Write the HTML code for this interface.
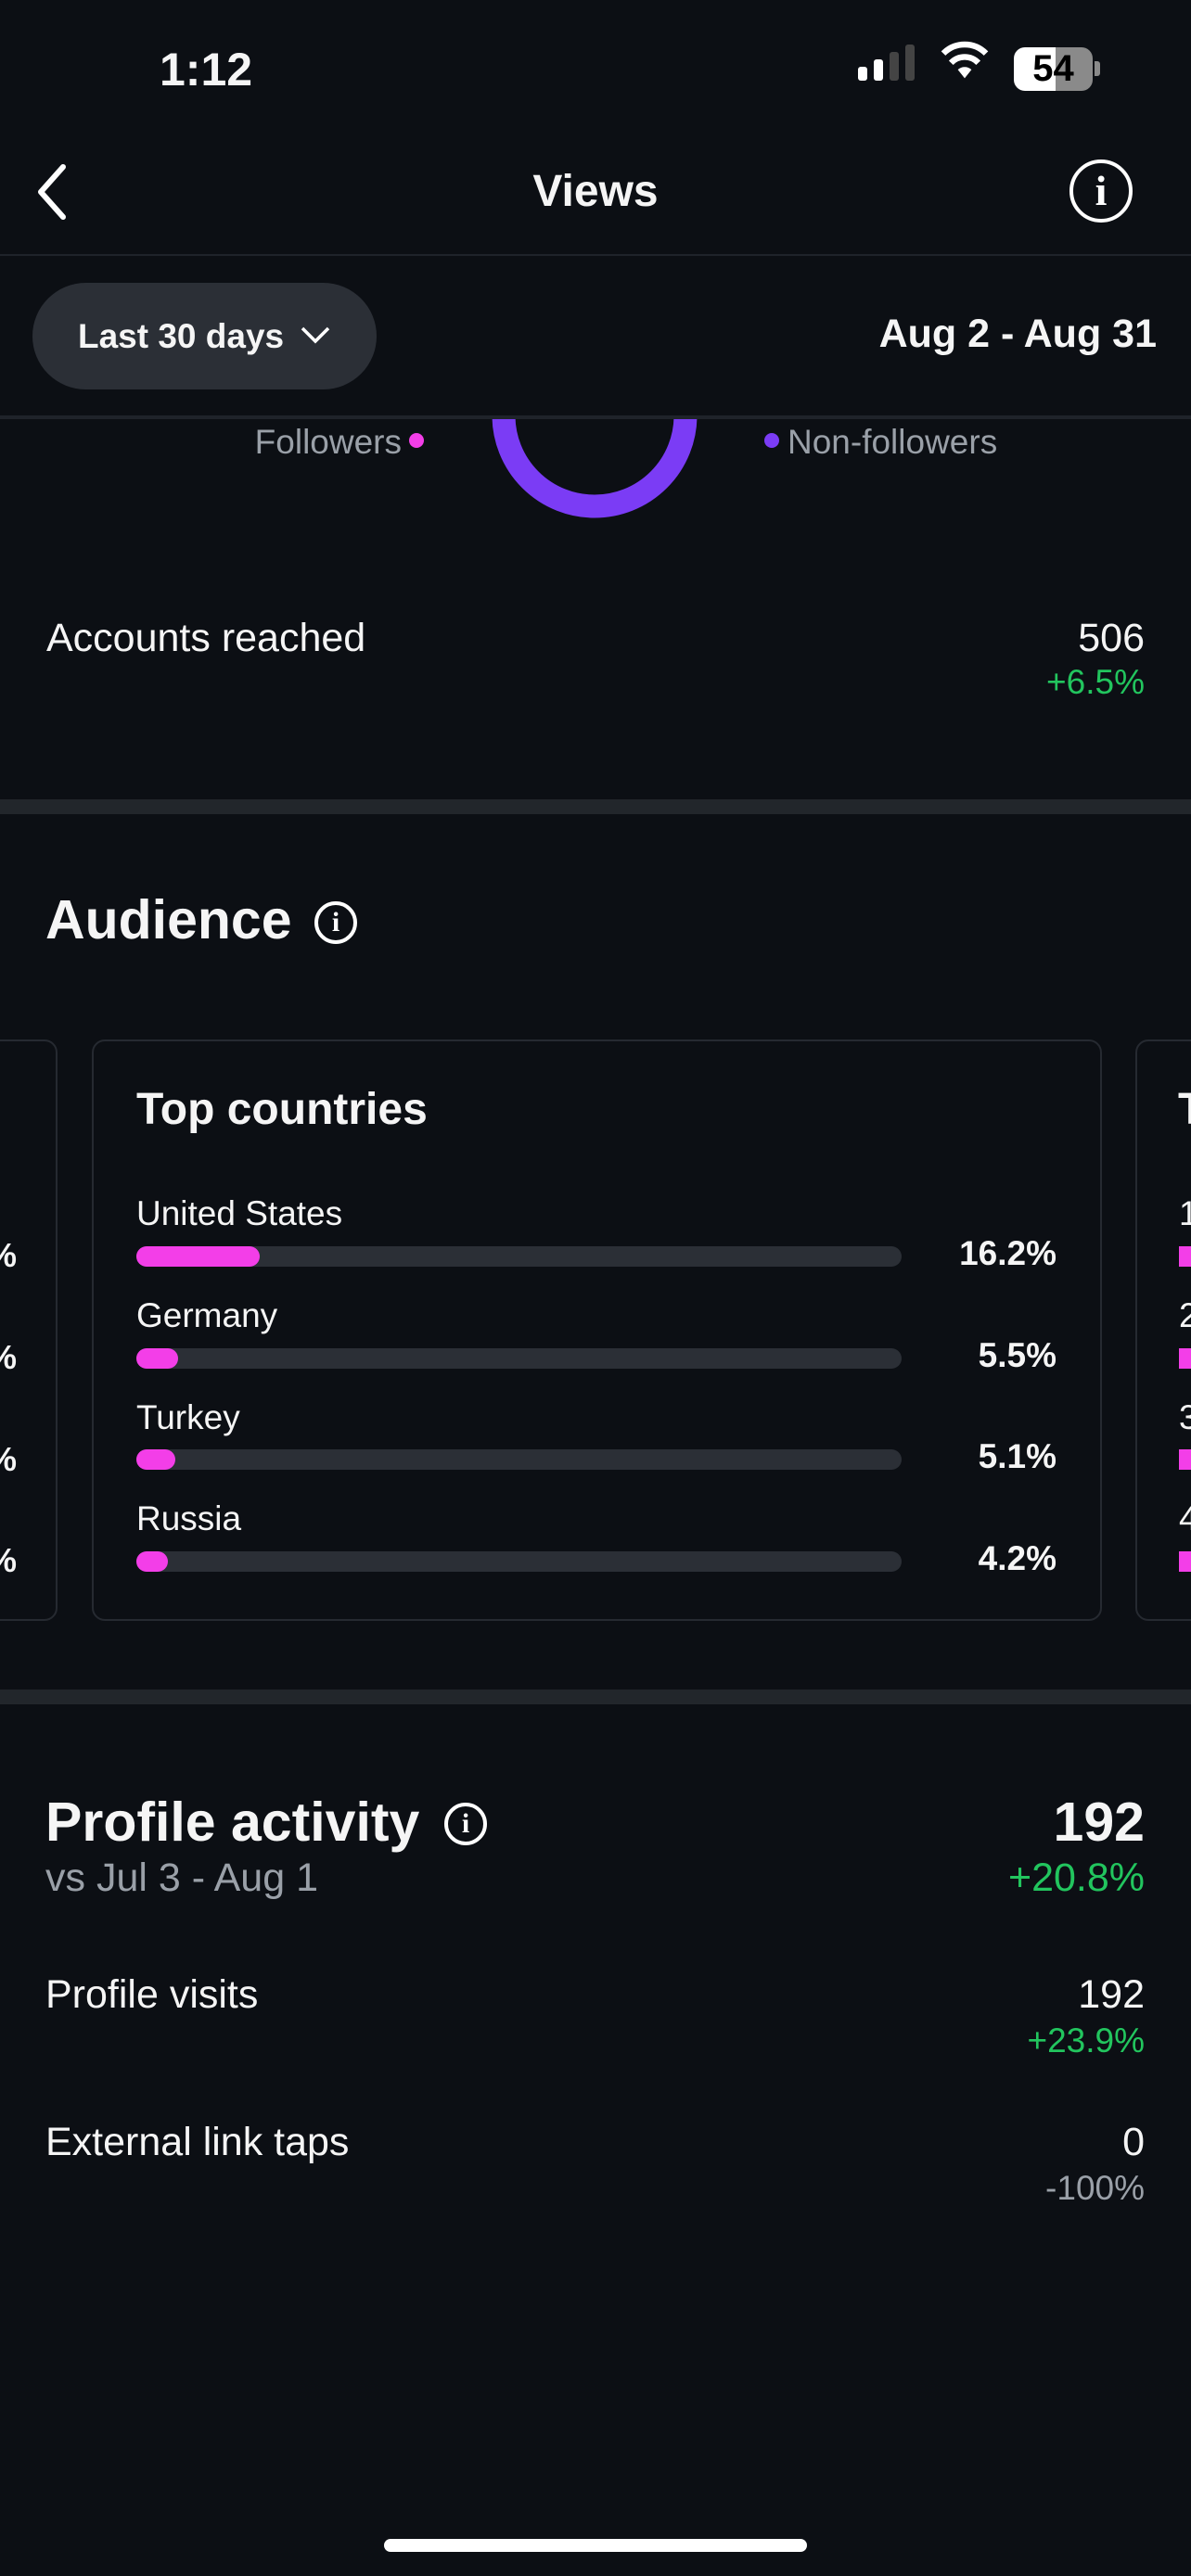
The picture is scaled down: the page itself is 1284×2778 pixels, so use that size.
<!DOCTYPE html>
<html><head><meta charset="utf-8"><style>
*{margin:0;padding:0;box-sizing:border-box}
body{width:1284px;height:2778px;background:#0c0f14;overflow:hidden;position:relative;font-family:"Liberation Sans",sans-serif;color:#f5f5f5}
.t{position:absolute;line-height:1;white-space:nowrap}
.r{text-align:right}
.b{font-weight:bold}
.g{color:#22c55e}
.gr{color:#9aa0a8}
.bar{position:absolute;left:147px;width:825px;height:22px;border-radius:11px;background:#2b2f36;overflow:hidden}
.bar i{position:absolute;left:0;top:0;bottom:0;background:#f33ee8;border-radius:0 11px 11px 0}
.card{position:absolute;top:1121px;height:627px;border:2px solid #262a31;border-radius:14px}
.info{position:absolute;border:4px solid #fff;border-radius:50%;text-align:center;font-weight:bold;color:#fff;font-family:"Liberation Serif",serif}
</style></head><body>
<!-- status bar -->
<div class="t b" style="left:172px;top:50px;font-size:50px">1:12</div>
<div style="position:absolute;left:925px;top:72px;width:10px;height:15px;background:#fff;border-radius:3px"></div>
<div style="position:absolute;left:942px;top:64px;width:10px;height:23px;background:#fff;border-radius:3px"></div>
<div style="position:absolute;left:959px;top:56px;width:10px;height:31px;background:#444;border-radius:3px"></div>
<div style="position:absolute;left:976px;top:48px;width:10px;height:39px;background:#444;border-radius:3px"></div>
<svg style="position:absolute;left:1012px;top:42px" width="56" height="46" viewBox="0 0 60 50"><path d="M30 46 L22 36 A12 12 0 0 1 38 36 Z" fill="#fff"/><path d="M14 28 A22 22 0 0 1 46 28" stroke="#fff" stroke-width="7" fill="none"/><path d="M5 17 A35 35 0 0 1 55 17" stroke="#fff" stroke-width="7" fill="none"/></svg>
<div style="position:absolute;left:1093px;top:51px;width:85px;height:47px;border-radius:12px;background:linear-gradient(90deg,#fff 0 53%,#8a8a8a 53%)"></div>
<div style="position:absolute;left:1180px;top:66px;width:6px;height:16px;background:#8a8a8a;border-radius:0 3px 3px 0"></div>
<div class="t b" style="left:1093px;top:54px;width:85px;text-align:center;font-size:40px;color:#000">54</div>
<!-- nav -->
<svg style="position:absolute;left:36px;top:176px" width="40" height="62"><path d="M32 4 L8 31 L32 58" stroke="#fff" stroke-width="6" fill="none" stroke-linecap="round" stroke-linejoin="round"/></svg>
<div class="t b" style="left:442px;width:400px;text-align:center;top:183px;font-size:48px">Views</div>
<div class="info" style="left:1153px;top:172px;width:68px;height:68px;font-size:46px;line-height:60px">i</div>
<div style="position:absolute;left:0;top:274px;width:1284px;height:2px;background:#1f232a"></div>
<!-- pill -->
<div style="position:absolute;left:35px;top:305px;width:371px;height:115px;border-radius:58px;background:#2b2f36"></div>
<div class="t b" style="left:84px;top:344px;font-size:37px">Last 30 days</div>
<svg style="position:absolute;left:323px;top:350px" width="34" height="22"><path d="M3 4 L17 18 L31 4" stroke="#fff" stroke-width="3.5" fill="none"/></svg>
<div class="t b r" style="right:37px;top:339px;font-size:43px">Aug 2 - Aug 31</div>
<!-- donut -->
<svg style="position:absolute;left:0;top:450px" width="1284" height="120"><circle cx="641" cy="-2" r="98" stroke="#7b3cf5" stroke-width="25" fill="none"/></svg>
<div style="position:absolute;left:0;top:448px;width:1284px;height:4px;background:#1f232a"></div>
<div class="t gr r" style="right:851px;top:458px;font-size:37px">Followers</div>
<div style="position:absolute;left:441px;top:467px;width:16px;height:16px;border-radius:50%;background:#f33ee8"></div>
<div style="position:absolute;left:824px;top:467px;width:16px;height:16px;border-radius:50%;background:#7b3cf5"></div>
<div class="t gr" style="left:849px;top:458px;font-size:37px">Non-followers</div>
<!-- accounts reached -->
<div class="t" style="left:50px;top:667px;font-size:43px">Accounts reached</div>
<div class="t r" style="right:50px;top:667px;font-size:43px">506</div>
<div class="t g r" style="right:50px;top:717px;font-size:37px">+6.5%</div>
<div style="position:absolute;left:0;top:862px;width:1284px;height:16px;background:#22262b"></div>
<!-- audience -->
<div class="t b" style="left:49px;top:963px;font-size:59px">Audience</div>
<div class="info" style="left:339px;top:972px;width:46px;height:46px;font-size:30px;line-height:38px">i</div>
<div class="card" style="left:-40px;width:102px"></div>
<div class="t b" style="left:-14px;top:1336px;font-size:36px">%</div>
<div class="t b" style="left:-14px;top:1446px;font-size:36px">%</div>
<div class="t b" style="left:-14px;top:1556px;font-size:36px">%</div>
<div class="t b" style="left:-14px;top:1665px;font-size:36px">%</div>
<div class="card" style="left:99px;width:1089px"></div>
<div class="card" style="left:1224px;width:200px"></div>
<div class="t b" style="left:1270px;top:1173px;font-size:48px">T</div>
<div class="t" style="left:1271px;top:1290px;font-size:37px">1</div>
<div class="t" style="left:1271px;top:1400px;font-size:37px">2</div>
<div class="t" style="left:1271px;top:1510px;font-size:37px">3</div>
<div class="t" style="left:1271px;top:1619px;font-size:37px">4</div>
<div style="position:absolute;left:1271px;top:1344px;width:20px;height:22px;background:#f33ee8"></div>
<div style="position:absolute;left:1271px;top:1454px;width:20px;height:22px;background:#f33ee8"></div>
<div style="position:absolute;left:1271px;top:1563px;width:20px;height:22px;background:#f33ee8"></div>
<div style="position:absolute;left:1271px;top:1673px;width:20px;height:22px;background:#f33ee8"></div>
<div class="t b" style="left:147px;top:1173px;font-size:48px">Top countries</div>
<div class="t" style="left:147px;top:1290px;font-size:37px">United States</div>
<div class="bar" style="top:1344px"><i style="width:133px"></i></div>
<div class="t b r" style="right:145px;top:1333px;font-size:37px">16.2%</div>
<div class="t" style="left:147px;top:1400px;font-size:37px">Germany</div>
<div class="bar" style="top:1454px"><i style="width:45px"></i></div>
<div class="t b r" style="right:145px;top:1443px;font-size:37px">5.5%</div>
<div class="t" style="left:147px;top:1510px;font-size:37px">Turkey</div>
<div class="bar" style="top:1563px"><i style="width:42px"></i></div>
<div class="t b r" style="right:145px;top:1552px;font-size:37px">5.1%</div>
<div class="t" style="left:147px;top:1619px;font-size:37px">Russia</div>
<div class="bar" style="top:1673px"><i style="width:34px"></i></div>
<div class="t b r" style="right:145px;top:1662px;font-size:37px">4.2%</div>
<div style="position:absolute;left:0;top:1822px;width:1284px;height:16px;background:#22262b"></div>
<!-- profile activity -->
<div class="t b" style="left:49px;top:1936px;font-size:59px">Profile activity</div>
<div class="info" style="left:479px;top:1944px;width:46px;height:46px;font-size:30px;line-height:38px">i</div>
<div class="t b r" style="right:50px;top:1936px;font-size:59px">192</div>
<div class="t gr" style="left:49px;top:2004px;font-size:43px">vs Jul 3 - Aug 1</div>
<div class="t g r" style="right:50px;top:2004px;font-size:43px">+20.8%</div>
<div class="t" style="left:49px;top:2130px;font-size:43px">Profile visits</div>
<div class="t r" style="right:50px;top:2130px;font-size:43px">192</div>
<div class="t g r" style="right:50px;top:2182px;font-size:37px">+23.9%</div>
<div class="t" style="left:49px;top:2289px;font-size:43px">External link taps</div>
<div class="t r" style="right:50px;top:2289px;font-size:43px">0</div>
<div class="t gr r" style="right:50px;top:2341px;font-size:37px">-100%</div>
<!-- home indicator -->
<div style="position:absolute;left:414px;top:2738px;width:456px;height:14px;border-radius:7px;background:#fff"></div>
</body></html>
